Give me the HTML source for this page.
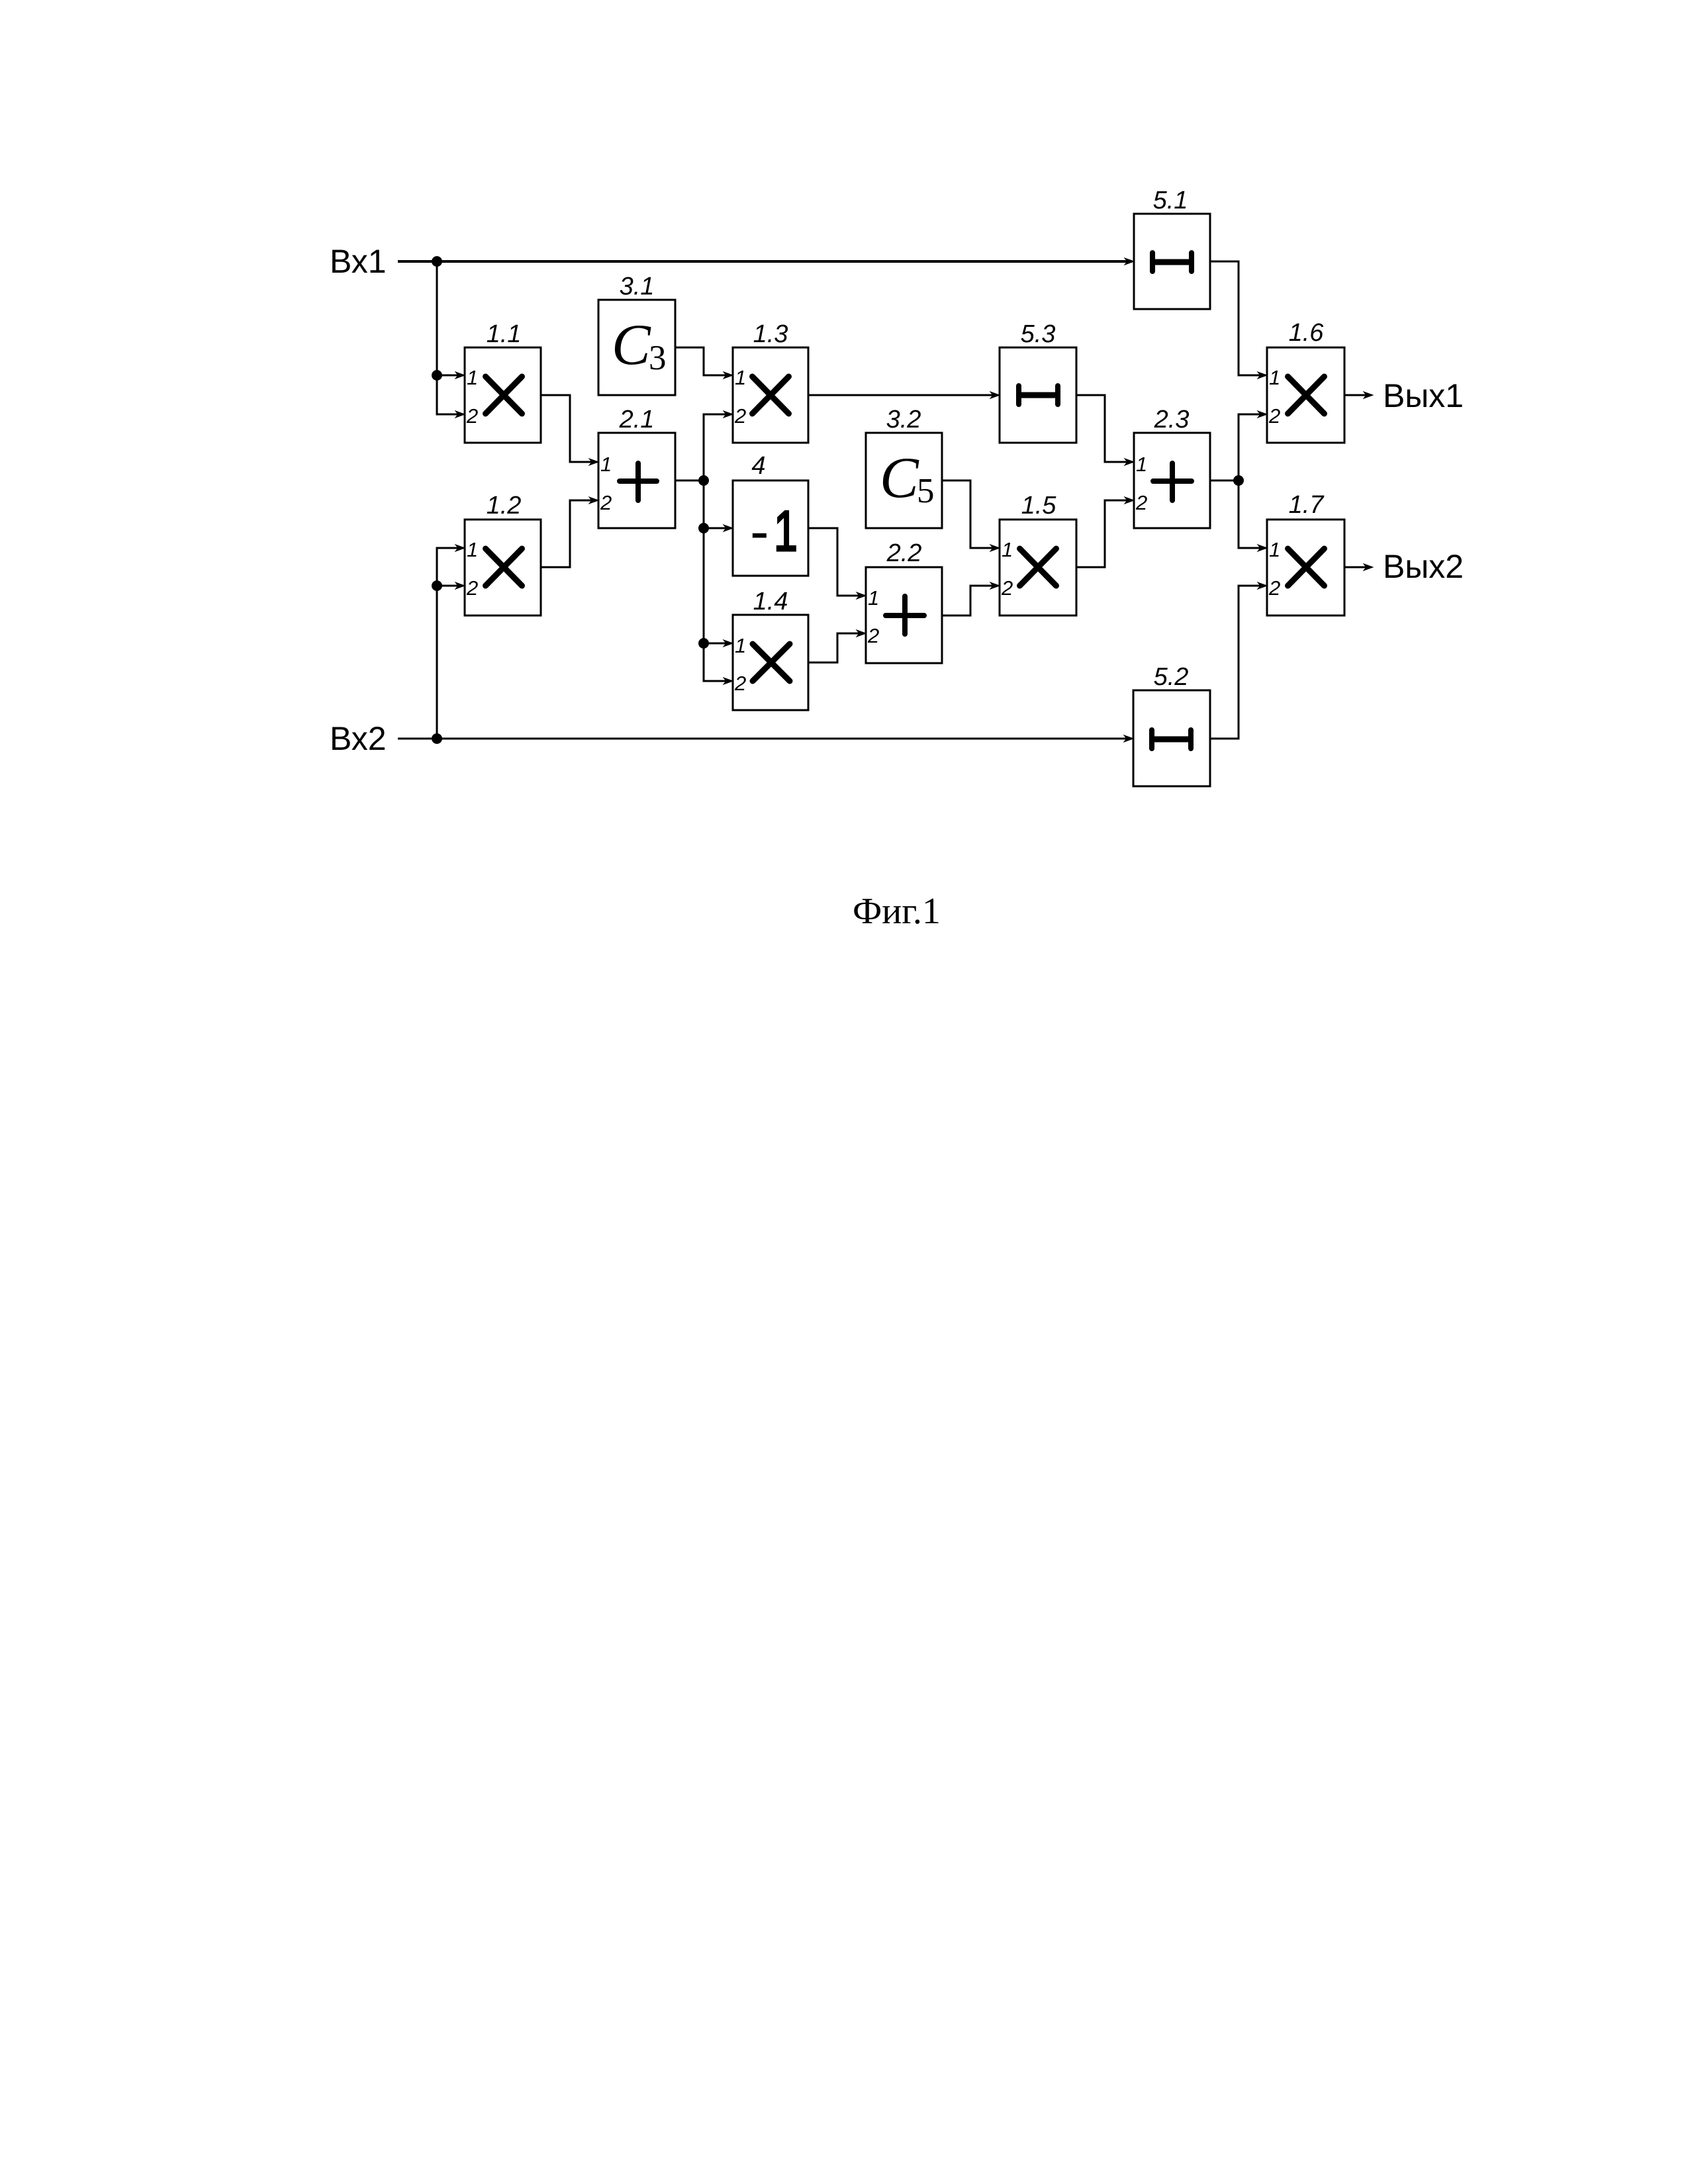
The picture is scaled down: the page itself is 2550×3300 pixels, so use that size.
<!DOCTYPE html>
<html><head><meta charset="utf-8"><style>
html,body{margin:0;padding:0;background:#fff}
svg{display:block}
.b{fill:none;stroke:#000;stroke-width:3}
.w{fill:none;stroke:#000;stroke-width:3}
.t{fill:none;stroke:#000;stroke-width:4}
.s{fill:none;stroke:#000;stroke-width:9;stroke-linecap:round}
.m{fill:none;stroke:#000;stroke-width:9}
.l{font:italic 38px "Liberation Sans",sans-serif;text-anchor:middle}
.p{font:italic 31px "Liberation Sans",sans-serif}
.n{font:50px "Liberation Sans",sans-serif}
.c{font:italic 88px "Liberation Serif",serif}
.i{font:53px "Liberation Serif",serif}
.a polygon{stroke:#000;stroke-width:1}
</style></head><body>
<svg width="2550" height="3300" viewBox="0 0 2550 3300" xmlns="http://www.w3.org/2000/svg">
<rect width="2550" height="3300" fill="#fff"/>
<!-- boxes -->
<g class="b">
<rect x="702" y="525" width="115" height="144"/>
<rect x="702" y="785" width="115" height="145"/>
<rect x="904" y="453" width="116" height="144"/>
<rect x="904" y="654" width="116" height="144"/>
<rect x="1107" y="525" width="114" height="144"/>
<rect x="1107" y="726" width="114" height="144"/>
<rect x="1107" y="929" width="114" height="144"/>
<rect x="1308" y="654" width="115" height="144"/>
<rect x="1308" y="857" width="115" height="145"/>
<rect x="1510" y="525" width="116" height="144"/>
<rect x="1510" y="785" width="116" height="145"/>
<rect x="1713" y="323" width="115" height="144"/>
<rect x="1713" y="654" width="115" height="144"/>
<rect x="1712" y="1043" width="116" height="145"/>
<rect x="1914" y="525" width="117" height="144"/>
<rect x="1914" y="785" width="117" height="145"/>
</g>
<!-- wires -->
<path class="t" d="M601 395H1710"/>
<path class="w" d="M601 1116H1710"/>
<g class="w">
<path d="M660 395V626H700M660 567H700"/>
<path d="M700 828H660V1116M660 885H700"/>
<path d="M817 597H861V698H902"/>
<path d="M817 857H861V756H902"/>
<path d="M1020 525H1063V567H1105"/>
<path d="M1020 726H1063"/>
<path d="M1105 626H1063V1029H1105M1063 798H1105M1063 972H1105"/>
<path d="M1221 597H1508"/>
<path d="M1221 798H1265V900H1306"/>
<path d="M1221 1001H1265V957H1306"/>
<path d="M1423 726H1466V828H1508"/>
<path d="M1423 930H1466V885H1508"/>
<path d="M1626 597H1669V698H1711"/>
<path d="M1626 857H1669V756H1711"/>
<path d="M1828 395H1871V567H1912"/>
<path d="M1828 726H1871"/>
<path d="M1912 626H1871V828H1912"/>
<path d="M1828 1116H1871V885H1912"/>
<path d="M2031 597H2070"/>
<path d="M2031 857H2070"/>
</g>
<!-- dots and arrowheads -->
<g fill="#000" class="a">
<circle cx="660" cy="395" r="8"/><circle cx="660" cy="567" r="8"/>
<circle cx="660" cy="885" r="8"/><circle cx="660" cy="1116" r="8"/>
<circle cx="1063" cy="726" r="8"/><circle cx="1063" cy="798" r="8"/><circle cx="1063" cy="972" r="8"/>
<circle cx="1871" cy="726" r="8"/>
<polygon points="702,567 688,562 692,567 688,572"/>
<polygon points="702,626 688,621 692,626 688,631"/>
<polygon points="702,828 688,823 692,828 688,833"/>
<polygon points="702,885 688,880 692,885 688,890"/>
<polygon points="904,698 890,693 894,698 890,703"/>
<polygon points="904,756 890,751 894,756 890,761"/>
<polygon points="1107,567 1093,562 1097,567 1093,572"/>
<polygon points="1107,626 1093,621 1097,626 1093,631"/>
<polygon points="1107,798 1093,793 1097,798 1093,803"/>
<polygon points="1107,972 1093,967 1097,972 1093,977"/>
<polygon points="1107,1029 1093,1024 1097,1029 1093,1034"/>
<polygon points="1308,900 1294,895 1298,900 1294,905"/>
<polygon points="1308,957 1294,952 1298,957 1294,962"/>
<polygon points="1510,597 1496,592 1500,597 1496,602"/>
<polygon points="1510,828 1496,823 1500,828 1496,833"/>
<polygon points="1510,885 1496,880 1500,885 1496,890"/>
<polygon points="1713,395 1699,390 1703,395 1699,400"/>
<polygon points="1713,698 1699,693 1703,698 1699,703"/>
<polygon points="1713,756 1699,751 1703,756 1699,761"/>
<polygon points="1712,1116 1698,1111 1702,1116 1698,1121"/>
<polygon points="1914,567 1900,562 1904,567 1900,572"/>
<polygon points="1914,626 1900,621 1904,626 1900,631"/>
<polygon points="1914,828 1900,823 1904,828 1900,833"/>
<polygon points="1914,885 1900,880 1904,885 1900,890"/>
<polygon points="2074,597 2060,592 2064,597 2060,602"/>
<polygon points="2074,857 2060,852 2064,857 2060,862"/>
</g>
<!-- multiply symbols -->
<g class="s">
<path d="M733.500 569L788.500 625M788.500 569L733.500 625"/>
<path d="M733.500 829L788.500 885M788.500 829L733.500 885"/>
<path d="M1136.500 569L1191.500 625M1191.500 569L1136.500 625"/>
<path d="M1137 973L1193 1029M1193 973L1137 1029"/>
<path d="M1540.500 829L1595.500 885M1595.500 829L1540.500 885"/>
<path d="M1945.500 569L2000.500 625M2000.500 569L1945.500 625"/>
<path d="M1945.500 829L2000.500 885M2000.500 829L1945.500 885"/>
</g>
<g class="s" style="stroke-width:8">
<!-- plus symbols -->
<path d="M936 727H992M964 700V756"/>
<path d="M1742 727H1800M1771 700V756"/>
<path d="M1338 930H1396M1367 901V958"/>
<!-- H symbols -->
<path d="M1741 382V410M1800 382V410"/>
<path d="M1539 583V611M1598 583V611"/>
<path d="M1740 1103V1131M1799 1103V1131"/>
</g>
<g class="m">
<path d="M1741 396H1800"/><path d="M1539 597H1598"/><path d="M1740 1117H1799"/>
</g>
<!-- block labels -->
<g class="l">
<text x="761" y="517">1.1</text>
<text x="761" y="776">1.2</text>
<text x="962" y="445">3.1</text>
<text x="962" y="646">2.1</text>
<text x="1164" y="517">1.3</text>
<text x="1146" y="716">4</text>
<text x="1164" y="921">1.4</text>
<text x="1365" y="646">3.2</text>
<text x="1366" y="848">2.2</text>
<text x="1568" y="517">5.3</text>
<text x="1569" y="776">1.5</text>
<text x="1768" y="315">5.1</text>
<text x="1770" y="646">2.3</text>
<text x="1769" y="1035">5.2</text>
<text x="1973" y="515">1.6</text>
<text x="1973" y="775">1.7</text>
</g>
<!-- port labels -->
<g class="p">
<text x="705" y="581">1</text><text x="705" y="639">2</text>
<text x="705" y="841">1</text><text x="705" y="899">2</text>
<text x="907" y="712">1</text><text x="907" y="770">2</text>
<text x="1110" y="581">1</text><text x="1110" y="639">2</text>
<text x="1110" y="986">1</text><text x="1110" y="1043">2</text>
<text x="1311" y="914">1</text><text x="1311" y="971">2</text>
<text x="1513" y="841">1</text><text x="1513" y="899">2</text>
<text x="1716" y="712">1</text><text x="1716" y="770">2</text>
<text x="1917" y="581">1</text><text x="1917" y="639">2</text>
<text x="1917" y="841">1</text><text x="1917" y="899">2</text>
</g>
<!-- constants -->
<text class="c" x="924" y="550">C</text><text class="i" x="980" y="558">3</text>
<text class="c" x="1329" y="751">C</text><text class="i" x="1385" y="759">5</text>
<text x="1133" y="832" font-family="'Liberation Sans',sans-serif" font-size="86">-</text>
<text transform="translate(1169,832) scale(.75,1)" font-family="'Liberation Sans',sans-serif" font-size="86" stroke="#000" stroke-width="3">1</text>
<!-- IO labels -->
<text class="n" x="498" y="412">Вх1</text>
<text class="n" x="498" y="1133">Вх2</text>
<text class="n" x="2089" y="615">Вых1</text>
<text class="n" x="2089" y="873">Вых2</text>
<text x="1288" y="1395" font-family="'Liberation Serif',serif" font-size="56">Фиг.1</text>
</svg>
</body></html>
